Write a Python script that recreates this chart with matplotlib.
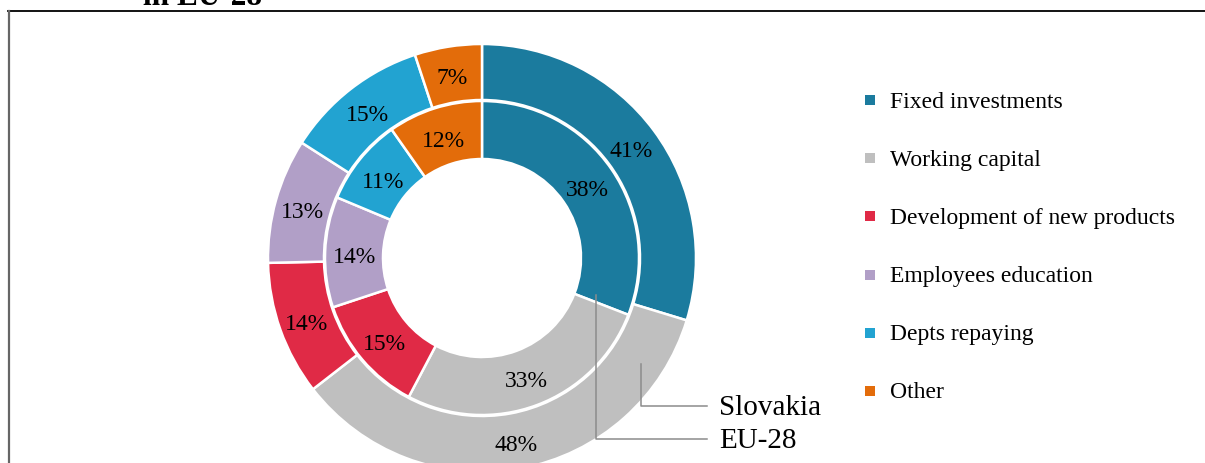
import matplotlib.pyplot as plt
from matplotlib.lines import Line2D

# data
categories = ["Fixed investments", "Working capital", "Development of new products",
              "Employees education", "Depts repaying", "Other"]
slovakia = [41, 48, 14, 13, 15, 7]
eu28 = [38, 33, 15, 14, 11, 12]
colors = ["#1b7b9e", "#bfbfbf", "#e02a46", "#b19fc7", "#22a3d1", "#e36c0a"]

W, H = 1205, 464
serif = "Liberation Serif"

fig = plt.figure(figsize=(W / 100, H / 100), dpi=100)
ax = fig.add_axes([0, 0, 1, 1])


def Y(y):
    # pixel row (from top) -> data y
    return H - y


cx, cy = 482, Y(259)


def pct_fmt(vals):
    total = sum(vals)
    return lambda p: f"{p * total / 100:.0f}%"


txt = dict(fontsize=17, family=serif, color="black")

# outer ring = Slovakia
_, _, auto_out = ax.pie(slovakia, colors=colors, radius=214, center=(cx, cy), startangle=90,
                        counterclock=False, autopct=pct_fmt(slovakia), pctdistance=0.87,
                        wedgeprops=dict(width=56, edgecolor="white", linewidth=1.8),
                        textprops=txt, frame=True)

# inner ring = EU-28
_, _, auto_in = ax.pie(eu28, colors=colors, radius=157, center=(cx, cy), startangle=90,
                       counterclock=False, autopct=pct_fmt(eu28), pctdistance=0.81,
                       wedgeprops=dict(width=58, edgecolor="white", linewidth=1.8),
                       textprops=txt, frame=True)

# small downward nudge of the value labels
for t in list(auto_out) + list(auto_in):
    x, y = t.get_position()
    t.set_position((x, y - 3.5))

ax.set_xlim(0, W)
ax.set_ylim(0, H)
ax.set_aspect("equal")
ax.axis("off")

# leader lines for ring names
lc = "#8c8c8c"
ax.add_line(Line2D([641, 641, 707], [Y(365), Y(407), Y(407)], color=lc, lw=1.1))
ax.add_line(Line2D([596, 596, 707], [Y(296), Y(440), Y(440)], color=lc, lw=1.1))
ax.text(719, Y(408), "Slovakia", fontsize=21, family=serif, va="center", ha="left")
ax.text(719, Y(441), "EU-28", fontsize=21, family=serif, va="center", ha="left")

# legend
for i, (lab, c) in enumerate(zip(categories, colors)):
    yy = Y(101 + 58.2 * i)
    ax.scatter([870], [yy], marker="s", s=45, color=c, linewidths=0)
    ax.text(890, yy - 1, lab, fontsize=17, family=serif, va="center", ha="left")

# frame and clipped title
ax.add_line(Line2D([8, W], [Y(12), Y(12)], color="black", lw=1.3))
ax.add_line(Line2D([8.5, 8.5], [Y(12), 0], color="#666666", lw=1.6))
ax.text(143, Y(5), "in EU-28", fontsize=22.5, family=serif, weight="bold",
        va="baseline", ha="left")

fig.savefig("out.png", dpi=100)
